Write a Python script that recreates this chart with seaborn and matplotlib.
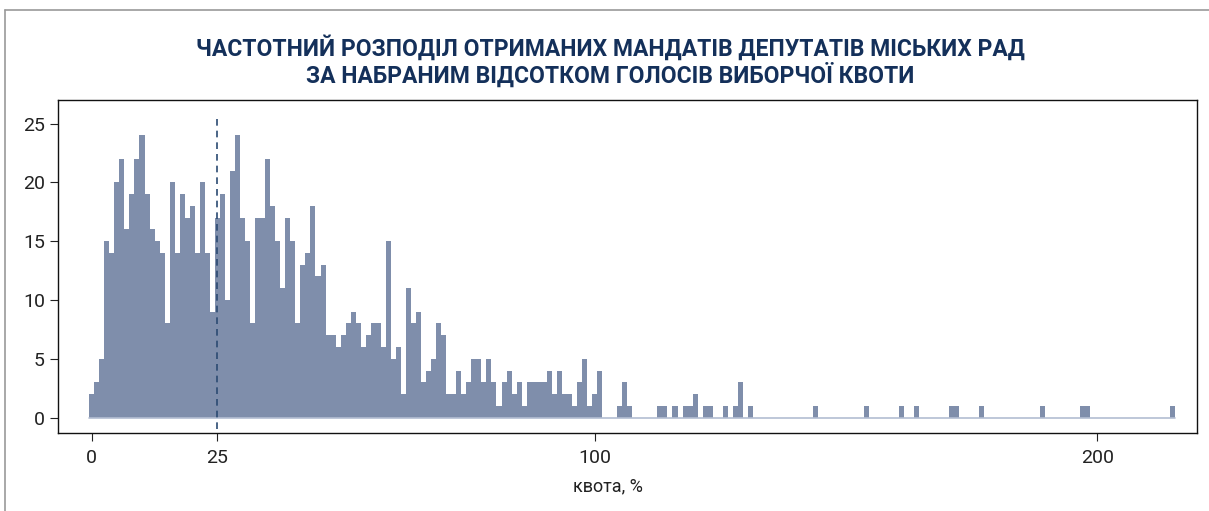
import numpy as np
import pandas as pd
import seaborn as sns
import matplotlib.pyplot as plt
from matplotlib import font_manager
from matplotlib.lines import Line2D

# counts of mandates per 1% bin of the electoral quota, bins 0..101
counts_dense = [2, 3, 5, 15, 14, 20, 22, 16, 19, 22,
                24, 19, 16, 15, 14, 8, 20, 14, 19, 17,
                18, 14, 20, 14, 9, 17, 19, 10, 21, 24,
                17, 15, 8, 17, 17, 22, 18, 15, 11, 17,
                15, 8, 13, 14, 18, 12, 13, 7, 7, 6,
                7, 8, 9, 8, 6, 7, 8, 8, 6, 15,
                5, 6, 2, 11, 8, 9, 3, 4, 5, 8,
                7, 2, 2, 4, 2, 3, 5, 5, 3, 5,
                3, 1, 3, 4, 2, 3, 1, 3, 3, 3,
                3, 4, 2, 4, 2, 2, 1, 3, 5, 1,
                2, 4]
# sparse tail above 101%
tail_quota = [105, 106, 107, 113, 114, 116, 118, 119, 120, 122, 123, 126, 128,
              129, 131, 144, 154, 161, 164, 171, 172, 177, 189, 197, 198, 215]
tail_counts = [1, 3, 1, 1, 1, 1, 1, 1, 2, 1, 1, 1, 1,
               3, 1, 1, 1, 1, 1, 1, 1, 1, 1, 1, 1, 1]
quota_line = 25
xticks = [0, 25, 100, 200]
yticks = [0, 5, 10, 15, 20, 25]

title = ("ЧАСТОТНИЙ РОЗПОДІЛ ОТРИМАНИХ МАНДАТІВ ДЕПУТАТІВ МІСЬКИХ РАД\n"
         "ЗА НАБРАНИМ ВІДСОТКОМ ГОЛОСІВ ВИБОРЧОЇ КВОТИ")
xlabel = "квота, %"

df = pd.DataFrame({
    "quota": list(range(len(counts_dense))) + tail_quota,
    "n": counts_dense + tail_counts,
})

sns.set_theme(style="white")
names = {f.name for f in font_manager.fontManager.ttflist}
narrow = "Liberation Sans Narrow" if "Liberation Sans Narrow" in names else "Roboto"
plt.rcParams['font.family'] = [narrow, 'DejaVu Sans']

bar_color = "#7f8eab"
navy = "#14305a"

fig = plt.figure(figsize=(12.09, 5.11), dpi=100)
ax = fig.add_axes([0.048, 0.153, 0.942, 0.651])

sns.histplot(data=df, x="quota", weights="n", discrete=True, ax=ax,
             color=bar_color, alpha=1, linewidth=0)

# faint baseline under the whole binned range (empty bins)
ax.plot([df.quota.min() - 0.5, df.quota.max() + 0.5], [0, 0],
        color="#b3bdd2", lw=1.2, zorder=1.5)

ax.plot([quota_line, quota_line], [-1.0, 25.4], color="#2b4a72",
        lw=1.2, ls=(0, (4, 3)))

ax.set_xlim(-6.7, 219.8)
ax.set_ylim(-1.3, 27.0)
ax.set_xticks(xticks)
ax.set_yticks(yticks)
ax.tick_params(axis="both", labelsize=14, colors="#222222", length=6,
               width=0.8, direction="out", bottom=True, left=True)
ax.tick_params(axis="x", pad=6)
ax.set_xlabel(xlabel, fontsize=13, color="#222222")
ax.xaxis.set_label_coords((608 - 58) / 1139, -0.135)
ax.set_ylabel("")
for s in ax.spines.values():
    s.set_color("#111111")
    s.set_linewidth(1.0)

fig.text(0.505, 0.88, title, ha="center", va="center", fontsize=16.5,
         fontweight="bold", color=navy, linespacing=1.05)

# page frame (top and left rule)
fig.add_artist(Line2D([0.004, 1.0], [0.98, 0.98], color="#9a9a9a", lw=1.2,
                      transform=fig.transFigure))
fig.add_artist(Line2D([0.004, 0.004], [0.0, 0.98], color="#9a9a9a", lw=1.2,
                      transform=fig.transFigure))

fig.savefig("out.png", dpi=100)
